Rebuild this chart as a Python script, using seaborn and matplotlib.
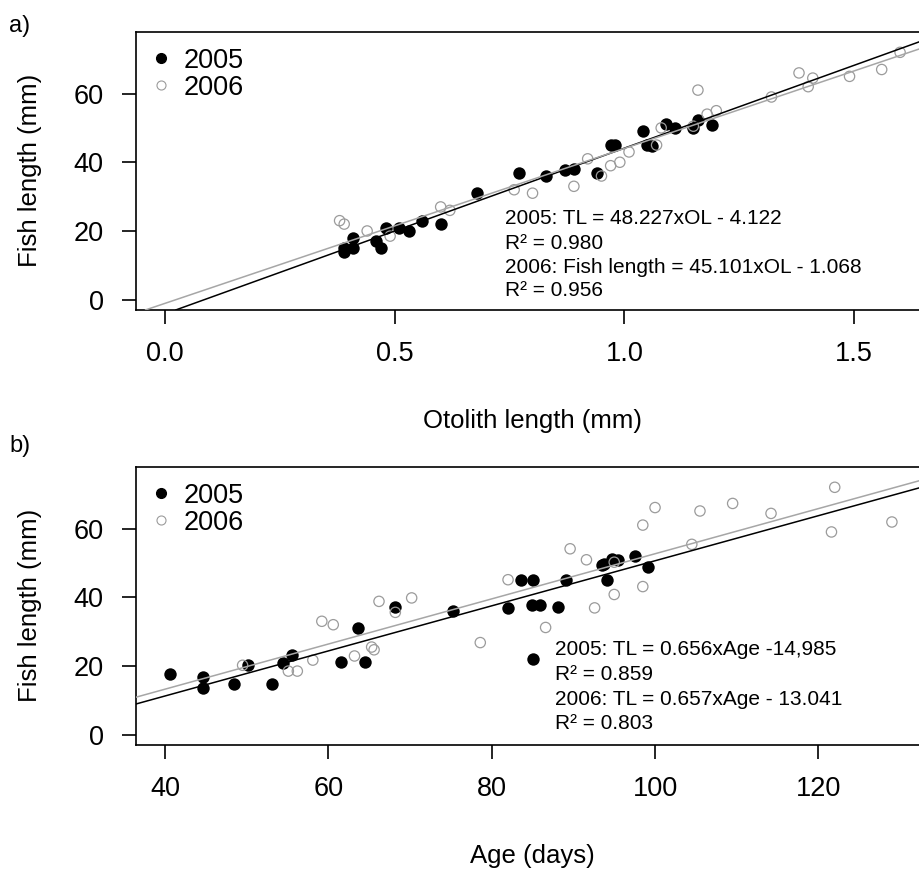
import numpy as np
import matplotlib
matplotlib.use('Agg')
import matplotlib.pyplot as plt
from matplotlib.lines import Line2D
import seaborn as sns

# panel a: otolith length (mm) vs fish length (mm)
ol_2005 = [0.39, 0.39, 0.41, 0.41, 0.46, 0.47, 0.48, 0.51, 0.53, 0.56, 0.60, 0.68, 0.77, 0.83,
           0.87, 0.89, 0.94, 0.97, 0.98, 1.04, 1.05, 1.06, 1.09, 1.11, 1.15, 1.16, 1.19]
tl_ol_2005 = [14, 15, 18, 15, 17, 15, 21, 21, 20, 23, 22, 31, 37, 36,
              37.8, 38, 37, 45, 45, 49, 45, 44.6, 51, 50, 50, 52.2, 50.7]
ol_2006 = [0.38, 0.39, 0.44, 0.49, 0.60, 0.62, 0.76, 0.80, 0.89, 0.92, 0.95, 0.97, 0.99, 1.01,
           1.07, 1.08, 1.15, 1.16, 1.18, 1.20, 1.32, 1.38, 1.40, 1.41, 1.49, 1.56, 1.60]
tl_ol_2006 = [23, 22, 20, 18.5, 27, 26, 32, 31, 33, 41, 36, 39, 40, 43,
              45, 50, 50.5, 61, 54, 55, 59, 66, 62, 64.5, 65, 67, 72]

# panel b: age (days) vs fish length (mm)
age_2005 = [40.6, 44.7, 44.7, 48.5, 50.1, 53.1, 54.4, 55.5, 61.5, 63.6, 64.5, 68.1, 75.2, 82.0,
            83.6, 85.0, 84.9, 85.9, 85.1, 88.1, 89.1, 93.5, 93.7, 94.1, 94.7, 95.5, 97.5, 99.1]
tl_age_2005 = [17.7, 16.9, 13.6, 14.8, 20.3, 14.8, 21.0, 23.2, 21.2, 31.0, 21.2, 37.1, 36.1, 36.9,
               45.1, 45.1, 37.8, 37.8, 21.9, 37.1, 45.1, 49.3, 49.8, 45.1, 51.2, 50.7, 52.0, 48.8]
age_2006 = [49.5, 55.1, 56.2, 58.1, 59.2, 60.6, 63.2, 65.3, 65.6, 66.2, 68.2, 70.2, 78.6, 82.0, 86.6,
            89.6, 91.6, 92.6, 95.0, 95.0, 98.5, 98.5, 100.0, 104.5, 105.5, 109.5, 114.2, 121.6, 122.0, 129.0]
tl_age_2006 = [20.2, 18.5, 18.5, 21.7, 33.0, 32.0, 22.9, 25.5, 24.7, 38.8, 35.6, 39.8, 26.8, 45.1, 31.2,
               54.1, 50.9, 36.9, 40.8, 50.2, 43.1, 61.0, 66.1, 55.4, 65.1, 67.3, 64.4, 59.0, 72.0, 61.9]

# regression fits (slope, intercept) for 2005 and 2006
fit_ol = [(48.227, -4.122), (45.101, -1.068)]
fit_age = [(0.656, -14.985), (0.657, -13.041)]

eq_ol = ['2005: TL = 48.227xOL - 4.122', 'R\u00b2 = 0.980',
         '2006: Fish length = 45.101xOL - 1.068', 'R\u00b2 = 0.956']
eq_age = ['2005: TL = 0.656xAge -14,985', 'R\u00b2 = 0.859',
          '2006: TL = 0.657xAge - 13.041', 'R\u00b2 = 0.803']

years = ['2005', '2006']
grey = '#9b9b9b'
line_grey = '#a6a6a6'

sns.set_theme(style='ticks', rc={'axes.edgecolor': 'black', 'axes.linewidth': 1.2,
                                 'text.color': 'black', 'axes.labelcolor': 'black',
                                 'xtick.color': 'black', 'ytick.color': 'black',
                                 'xtick.major.width': 1.2, 'ytick.major.width': 1.2,
                                 'xtick.major.size': 10, 'ytick.major.size': 10})
plt.rcParams['font.family'] = ['Liberation Sans', 'DejaVu Sans']

fig = plt.figure(figsize=(9.2, 8.71), dpi=100)
ax1 = fig.add_axes([0.1474, 0.6441, 0.8629, 0.3195])
ax2 = fig.add_axes([0.1474, 0.1447, 0.8629, 0.3195])


def panel(ax, x05, y05, x06, y06, fits, eqs, eq_x, eq_y):
    sns.scatterplot(x=x05, y=y05, ax=ax, color='black', s=80, linewidth=0, zorder=2)
    sns.scatterplot(x=x06, y=y06, ax=ax, facecolor='none', edgecolor=grey, s=55,
                    linewidth=0.9, zorder=3)
    ax.axline((0, fits[0][1]), slope=fits[0][0], color='black', lw=1.1, zorder=4)
    ax.axline((0, fits[1][1]), slope=fits[1][0], color=line_grey, lw=1.1, zorder=4)
    for txt, yy in zip(eqs, eq_y):
        ax.text(eq_x, yy, txt, fontsize=15, va='center', ha='left', zorder=5)
    ax.set_ylim(-3, 78)
    ax.set_yticks([0, 20, 40, 60])
    ax.tick_params(axis='both', labelsize=19.5)
    ax.tick_params(axis='y', pad=13)
    ax.tick_params(axis='x', pad=12)
    ax.set_ylabel('Fish length (mm)', fontsize=18.5, va='center')
    ax.yaxis.set_label_coords(-0.1336, 0.5)
    handles = [Line2D([], [], marker='o', ls='', color='black', markersize=7),
               Line2D([], [], marker='o', ls='', markerfacecolor='none',
                      markeredgecolor=grey, markeredgewidth=0.8, markersize=6.5)]
    ax.legend(handles, years, loc='upper left', bbox_to_anchor=(0.022, 0.943),
              frameon=False, fontsize=19.5, handlelength=0.6, handletextpad=0.52,
              labelspacing=0.05, borderaxespad=0, borderpad=0)


panel(ax1, ol_2005, tl_ol_2005, ol_2006, tl_ol_2006, fit_ol, eq_ol, 0.74, [23.7, 16.4, 9.4, 2.6])
ax1.set_xlim(-0.064, 1.664)
ax1.set_xticks([0.0, 0.5, 1.0, 1.5])
ax1.set_xticklabels(['0.0', '0.5', '1.0', '1.5'])
ax1.set_xlabel('Otolith length (mm)', fontsize=18.5, va='center')
ax1.xaxis.set_label_coords(0.5, -0.399)

panel(ax2, age_2005, tl_age_2005, age_2006, tl_age_2006, fit_age, eq_age, 87.7, [24.7, 17.4, 10.3, 3.3])
ax2.set_xlim(36.4, 133.6)
ax2.set_xticks([40, 60, 80, 100, 120])
ax2.set_xlabel('Age (days)', fontsize=18.5, va='center')
ax2.xaxis.set_label_coords(0.5, -0.399)

fig.text(9 / 920, 1 - 26 / 871, 'a)', fontsize=17, ha='left', va='center')
fig.text(9 / 920, 1 - 446 / 871, 'b)', fontsize=17, ha='left', va='center')

fig.savefig('out.png', dpi=100)
